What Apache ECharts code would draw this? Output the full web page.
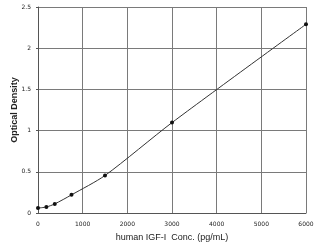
<!DOCTYPE html>
<html lang="en">
<head>
    <meta charset="UTF-8">
    <title>IGF-I standard curve</title>
    <script src="https://cdn.jsdelivr.net/npm/echarts@6/dist/echarts.min.js"></script>
    <style>
        body { margin: 0; background: #fff; }
    </style>
</head>
<body>
    <div id="chart" style="width: 318px; height: 247px"></div>
    <script type="text/javascript">
        let conc = [0, 187.5, 375, 750, 1500, 3000, 6000];
        let od = [0.06, 0.073, 0.11, 0.22, 0.455, 1.097, 2.29];

        let chart = echarts.init(document.getElementById('chart'));
        let gridLine = {show: true, lineStyle: {color: '#7a7a7a', width: 1}};
        let label = {fontSize: 6, color: '#222', fontFamily: 'DejaVu Sans'};
        let option = {
            animation: false,
            grid: {left: 38, right: 12, top: 7, bottom: 34, containLabel: false, outerBoundsMode: 'none'},
            xAxis: {
                type: 'value',
                min: 0, max: 6000, interval: 1000,
                name: 'human IGF-I  Conc. (pg/mL)',
                nameLocation: 'middle',
                nameGap: 20,
                nameMoveOverlap: false,
                nameTextStyle: {fontSize: 9, color: '#222', fontFamily: 'Liberation Sans'},
                axisLine: {show: true, onZero: false, lineStyle: {color: '#555'}},
                axisTick: {show: false},
                axisLabel: Object.assign({margin: 8, formatter: v => String(v)}, label),
                splitLine: gridLine
            },
            yAxis: {
                type: 'value',
                min: 0, max: 2.5, interval: 0.5,
                name: 'Optical Density',
                nameLocation: 'middle',
                nameGap: 19,
                nameMoveOverlap: false,
                nameTextStyle: {fontSize: 9, fontWeight: 'bold', color: '#222', fontFamily: 'Liberation Sans'},
                axisLine: {show: true, lineStyle: {color: '#555'}},
                axisTick: {show: true, length: 2, lineStyle: {color: '#555'}},
                axisLabel: Object.assign({margin: 7}, label),
                splitLine: gridLine
            },
            series: [{
                type: 'line',
                data: conc.map((c, i) => [c, od[i]]),
                smooth: 0.25,
                symbol: 'circle',
                symbolSize: 4,
                itemStyle: {color: '#111'},
                lineStyle: {color: '#333', width: 1}
            }]
        };
        chart.setOption(option);
    </script>
</body>
</html>
